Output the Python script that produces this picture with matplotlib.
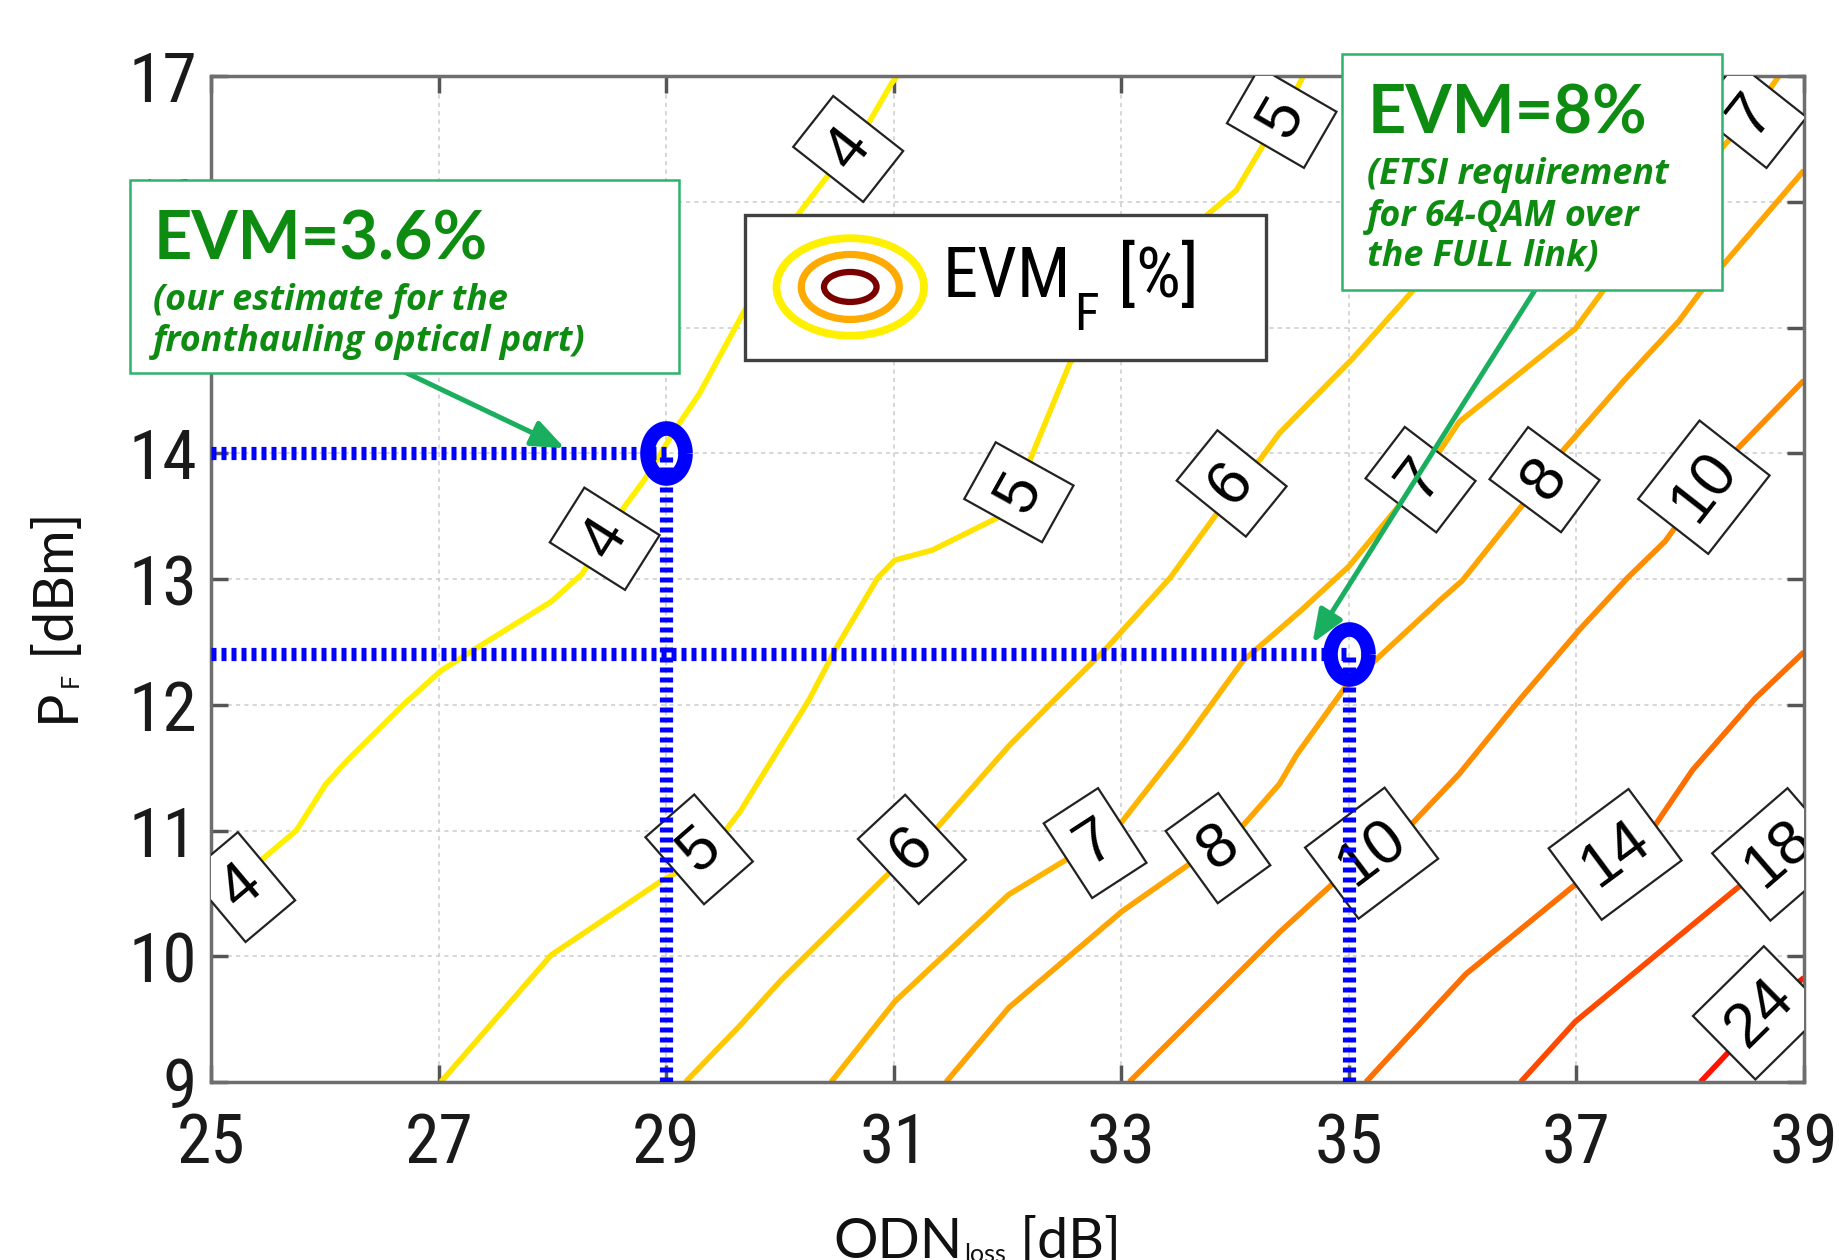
import os
import numpy as np
import matplotlib
matplotlib.use("Agg")
import matplotlib.pyplot as plt
from matplotlib import font_manager
from matplotlib.font_manager import FontProperties
from matplotlib.patches import Rectangle, Ellipse
from matplotlib.path import Path


def pick_font(names):
    for name in names:
        try:
            font_manager.findfont(name, fallback_to_default=False)
            return name
        except ValueError:
            continue
    return "DejaVu Sans"


def find_narrow_file():
    # prefer a narrow Helvetica-like face for ticks and legend text
    prefs = ["liberationsansnarrow-regular", "robotocondensed-regular",
             "robotocondensed[", "opensans_condensed", "opensanscondensed-regular",
             "opensans-condensed"]
    files = set(font_manager.findSystemFonts())
    files.update(f.fname for f in font_manager.fontManager.ttflist)
    skip = ("bold", "italic", "oblique", "light", "thin", "medium", "black", "semi")
    for p in prefs:
        for f in sorted(files):
            base = os.path.basename(f).lower()
            if base.startswith(p) and not any(s in base for s in skip):
                return f
    return None


HELV = pick_font(["Liberation Sans", "DejaVu Sans"])
LABEL_FONT = pick_font(["Lato", "Open Sans", "DejaVu Sans"])
TITLE_FONT = pick_font(["Lato", "Open Sans", "DejaVu Sans"])
NOTE_FONT = pick_font(["Open Sans", "Lato", "DejaVu Sans"])
NARROW_FILE = find_narrow_file()


def narrow(size):
    if NARROW_FILE:
        return FontProperties(fname=NARROW_FILE, size=size)
    return FontProperties(family=HELV, size=size)


plt.rcParams["lines.scale_dashes"] = False

# EVM_F iso-lines, ODN loss [dB] vs fronthaul power P_F [dBm]
LEVELS = [4, 5, 6, 7, 8, 10, 14, 18, 24]

ODN_4 = [25.0, 25.37, 25.75, 26.01, 26.20, 26.69, 27.02, 27.35, 27.99, 28.26, 28.46, 28.63,
         28.81, 28.96, 29.11, 29.29, 29.65, 30.16, 30.44, 30.60, 30.77, 30.98, 31.03]
PF_4 = [10.43, 10.71, 11.00, 11.37, 11.56, 12.00, 12.27, 12.46, 12.82, 13.04, 13.32, 13.57,
        13.79, 14.01, 14.23, 14.47, 15.07, 15.90, 16.23, 16.42, 16.61, 16.94, 17.00]

ODN_5 = [27.02, 27.99, 28.96, 29.10, 29.29, 29.53, 29.65, 29.95, 30.25, 30.50, 30.86, 31.01,
         31.34, 31.92, 32.10, 32.19, 32.55, 33.76, 34.01, 34.28, 34.41, 34.60]
PF_5 = [9.00, 10.01, 10.60, 10.67, 10.85, 11.01, 11.15, 11.59, 12.03, 12.46, 13.01, 13.15,
        13.23, 13.49, 13.69, 13.93, 14.72, 15.90, 16.09, 16.50, 16.67, 17.00]

ODN_6 = [29.17, 29.65, 30.01, 30.98, 31.16, 31.37, 32.01, 32.37, 32.86, 33.43, 33.88, 33.97,
         34.22, 34.39, 35.03, 35.54, 36.30, 37.10]
PF_6 = [9.00, 9.45, 9.81, 10.68, 10.85, 11.01, 11.67, 12.00, 12.44, 13.01, 13.57, 13.76,
        13.95, 14.16, 14.75, 15.27, 16.10, 17.00]

ODN_7 = [30.45, 31.01, 32.01, 32.52, 32.77, 32.98, 33.55, 34.07, 34.39, 34.58, 35.00, 35.63,
         35.97, 36.99, 37.24, 37.80, 38.30, 38.54, 38.78]
PF_7 = [9.00, 9.64, 10.49, 10.77, 10.90, 11.04, 11.70, 12.35, 12.60, 12.75, 13.10, 13.79,
        14.25, 14.99, 15.30, 15.90, 16.45, 16.69, 17.00]

ODN_8 = [31.46, 32.01, 33.01, 33.61, 33.85, 34.07, 34.39, 34.54, 34.96, 35.24, 35.80, 36.00,
         36.51, 36.72, 36.87, 37.42, 37.90, 38.08, 38.30, 39.00]
PF_8 = [9.00, 9.59, 10.36, 10.74, 10.86, 11.04, 11.37, 11.60, 12.13, 12.36, 12.83, 12.99,
        13.57, 13.79, 14.01, 14.58, 15.05, 15.27, 15.51, 16.25]

ODN_10 = [33.07, 34.39, 34.85, 35.20, 35.54, 35.97, 36.51, 37.03, 37.45, 37.78, 38.12, 38.42, 39.00]
PF_10 = [9.00, 10.19, 10.57, 10.82, 11.04, 11.45, 12.05, 12.60, 13.01, 13.30, 13.73, 14.04, 14.58]

ODN_14 = [35.15, 36.03, 36.99, 37.34, 37.69, 38.02, 38.57, 39.00]
PF_14 = [9.00, 9.86, 10.57, 10.81, 11.04, 11.48, 12.05, 12.42]

ODN_18 = [36.51, 36.99, 38.02, 38.45, 38.78, 39.00]
PF_18 = [9.00, 9.48, 10.25, 10.57, 10.81, 11.00]

ODN_24 = [38.09, 38.36, 38.63, 39.00]
PF_24 = [9.00, 9.26, 9.56, 9.83]

# inline contour labels
LABEL_LEVEL = [4, 4, 4, 5, 5, 5, 6, 6, 7, 7, 7, 8, 8, 10, 10, 14, 18, 24]
LABEL_ODN = [25.27, 28.46, 30.60, 29.29, 32.10, 34.41, 31.16, 33.97, 32.77, 35.63, 38.54,
             33.85, 36.72, 35.20, 38.12, 37.34, 38.78, 38.61]
LABEL_PF = [10.55, 13.32, 16.42, 10.85, 13.69, 16.67, 10.85, 13.76, 10.90, 13.79, 16.69,
            10.86, 13.79, 10.82, 13.73, 10.81, 10.81, 9.55]

# operating points
MARK_ODN = [29, 35]
MARK_PF = [14, 12.4]
MARK_EVM = [3.6, 8]
NOTE_LINES = [["(our estimate for the", "fronthauling optical part)"],
              ["(ETSI requirement", "for 64-QAM over", "the FULL link)"]]
ARROW_TIP_ODN = [28.11, 34.68]
ARROW_TIP_PF = [14.04, 12.49]

X_TICKS = list(range(25, 40, 2))
Y_TICKS = list(range(9, 18))

LEVEL_COLORS = ["#FFF000", "#FFE400", "#FFC800", "#FFB400", "#FFA400",
                "#FF8C00", "#FF6E00", "#FF4A00", "#FF1400"]

CONTOURS = {
    4: (ODN_4, PF_4), 5: (ODN_5, PF_5), 6: (ODN_6, PF_6), 7: (ODN_7, PF_7),
    8: (ODN_8, PF_8), 10: (ODN_10, PF_10), 14: (ODN_14, PF_14),
    18: (ODN_18, PF_18), 24: (ODN_24, PF_24),
}

NOTE_GREEN = "#0E8C12"
BOX_GREEN = "#2DB36B"
ARROW_GREEN = "#1AAE5F"
BLUE = "#0000FF"

fig = plt.figure(figsize=(18.4, 12.6), dpi=100)
ax = fig.add_axes([0.11467, 0.14127, 0.86576, 0.79841])
ax.set_xlim(25, 39)
ax.set_ylim(9, 17)
ax.set_xticks(X_TICKS)
ax.set_yticks(Y_TICKS)
ax.set_axisbelow(True)
ax.grid(True, color="#cfcfcf", linestyle=(0, (3, 3)), linewidth=1.2)
for sp in ax.spines.values():
    sp.set_color("#6e6e6e")
    sp.set_linewidth(2.5)
ax.tick_params(direction="in", length=12, width=2.5, color="#555555",
               top=True, right=True, labelcolor="#1a1a1a")
ax.tick_params(axis="x", pad=21)
ax.tick_params(axis="y", pad=10)
for lab in ax.get_xticklabels() + ax.get_yticklabels():
    lab.set_fontproperties(narrow(50))

for lev, col in zip(LEVELS, LEVEL_COLORS):
    xs, ys = CONTOURS[lev]
    ax.plot(xs, ys, color=col, lw=4.0, solid_capstyle="butt", zorder=2)


def label_angle(xs, ys, x0, y0):
    pts = ax.transData.transform(np.column_stack([xs, ys]))
    p0 = ax.transData.transform((x0, y0))
    i = int(np.argmin(np.hypot(*(pts - p0).T)))
    a, b = max(i - 1, 0), min(i + 1, len(xs) - 1)
    dx, dy = pts[b] - pts[a]
    ang = np.degrees(np.arctan2(dy, dx))
    if ang > 90:
        ang -= 180
    elif ang < -90:
        ang += 180
    return ang


for lev, lx, ly in zip(LABEL_LEVEL, LABEL_ODN, LABEL_PF):
    xs, ys = CONTOURS[lev]
    ax.text(lx, ly, str(lev), fontsize=45, family=HELV, color="black",
            rotation=label_angle(xs, ys, lx, ly), rotation_mode="anchor",
            ha="center", va="center", clip_on=True, zorder=4,
            bbox=dict(boxstyle="square,pad=0.24", fc="white", ec="#222222", lw=1.6))

# dotted guides down to the axes and ring markers on the operating points
theta = np.linspace(0, 2 * np.pi, 73)
ring = Path(np.column_stack([0.76 * np.cos(theta), np.sin(theta)]))
for mx, my in zip(MARK_ODN, MARK_PF):
    ax.plot([25, mx], [my, my], color=BLUE, lw=9.5, dashes=(3.6, 3.6),
            solid_capstyle="butt", zorder=5)
    ax.plot([mx, mx], [9, my], color=BLUE, lw=9.5, dashes=(3.6, 3.6),
            solid_capstyle="butt", zorder=5)
ax.plot(MARK_ODN, MARK_PF, linestyle="none", marker=ring, markersize=36,
        markerfacecolor="none", markeredgecolor=BLUE, markeredgewidth=10.5,
        zorder=6, clip_on=False)

# legend box with concentric contour icon
ax.add_patch(Rectangle((0.3352, 0.7174), 0.3271, 0.1448, transform=ax.transAxes,
                       fc="white", ec="#404040", lw=2.4, zorder=7))
for w, h, col, lw in [(0.0926, 0.0969, "#FFF000", 5.6),
                      (0.0615, 0.0646, "#FFAA00", 5.2),
                      (0.0330, 0.0298, "#7A0000", 4.5)]:
    ax.add_patch(Ellipse((0.4013, 0.7903), w, h, transform=ax.transAxes,
                         fc="none", ec=col, lw=lw, zorder=8))
t_evm = ax.text(0.4595, 0.7803, "EVM", transform=ax.transAxes,
                fontproperties=narrow(51), va="baseline", ha="left", zorder=8)
t_sub = ax.annotate("F", xy=(1, 0), xycoords=t_evm, xytext=(2, -14),
                    textcoords="offset points", fontproperties=narrow(37),
                    va="baseline", ha="left", zorder=8)
ax.annotate(" [%]", xy=(1, 0), xycoords=(t_sub, t_evm), xytext=(2, 0),
            textcoords="offset points", fontproperties=narrow(51),
            va="bottom", ha="left", zorder=8)

# axis titles with small subscripts
t_odn = fig.text(0.4527, 0.0016, "ODN", fontsize=40, family=LABEL_FONT,
                 ha="left", va="baseline", color="#111111")
t_loss = ax.annotate("loss", xy=(1, 0), xycoords=t_odn, xytext=(1.5, 4.5),
                     textcoords="offset points", fontsize=18, family=LABEL_FONT,
                     ha="left", va="baseline", color="#111111")
ax.annotate(" [dB]", xy=(1, 0), xycoords=(t_loss, t_odn), fontsize=40,
            family=LABEL_FONT, ha="left", va="bottom", color="#111111")

t_p = fig.text(0.0457, 0.4270, "P", fontsize=40, family=LABEL_FONT, rotation=90,
               ha="right", va="bottom", color="#111111")
t_f = ax.annotate("F", xy=(1, 1), xycoords=t_p, xytext=(-1.5, 1),
                  textcoords="offset points", fontsize=18, family=LABEL_FONT,
                  rotation=90, ha="right", va="bottom", color="#111111")
ax.annotate(" [dBm]", xy=(1, 1), xycoords=(t_p, t_f), fontsize=40,
            family=LABEL_FONT, rotation=90, ha="right", va="bottom", color="#111111")

# callout boxes
NOTE_BOXES = [(0.0707, 0.7040, 0.2983, 0.1531), (0.7293, 0.7695, 0.2068, 0.1876)]
NOTE_TITLE_POS = [(0.0837, 0.7944), (0.7434, 0.8939)]
NOTE_LINE_Y = [[0.7540, 0.7214], [0.8540, 0.8206, 0.7889]]
ARROW_START = [(0.2210, 0.7040), (0.8341, 0.7695)]

for k, evm in enumerate(MARK_EVM):
    x0, y0, w, h = NOTE_BOXES[k]
    fig.add_artist(Rectangle((x0, y0), w, h, transform=fig.transFigure,
                             fc="white", ec=BOX_GREEN, lw=1.8, zorder=10))
    tx, ty = NOTE_TITLE_POS[k]
    fig.text(tx, ty, f"EVM={evm:g}%", fontsize=48, family=TITLE_FONT,
             weight="bold", color=NOTE_GREEN, ha="left", va="baseline", zorder=11)
    for line, ly in zip(NOTE_LINES[k], NOTE_LINE_Y[k]):
        fig.text(tx - 0.0005, ly, line, fontsize=25.8, family=NOTE_FONT,
                 weight="bold", style="italic", color=NOTE_GREEN,
                 ha="left", va="baseline", zorder=11)
    ax.annotate("", xy=(ARROW_TIP_ODN[k], ARROW_TIP_PF[k]), xycoords="data",
                xytext=ARROW_START[k], textcoords="figure fraction",
                arrowprops=dict(arrowstyle="-|>,head_length=1.0,head_width=0.4",
                                color=ARROW_GREEN, lw=3.6, shrinkA=0, shrinkB=0,
                                mutation_scale=20),
                zorder=9, annotation_clip=False)

fig.savefig("out.png", dpi=100)
